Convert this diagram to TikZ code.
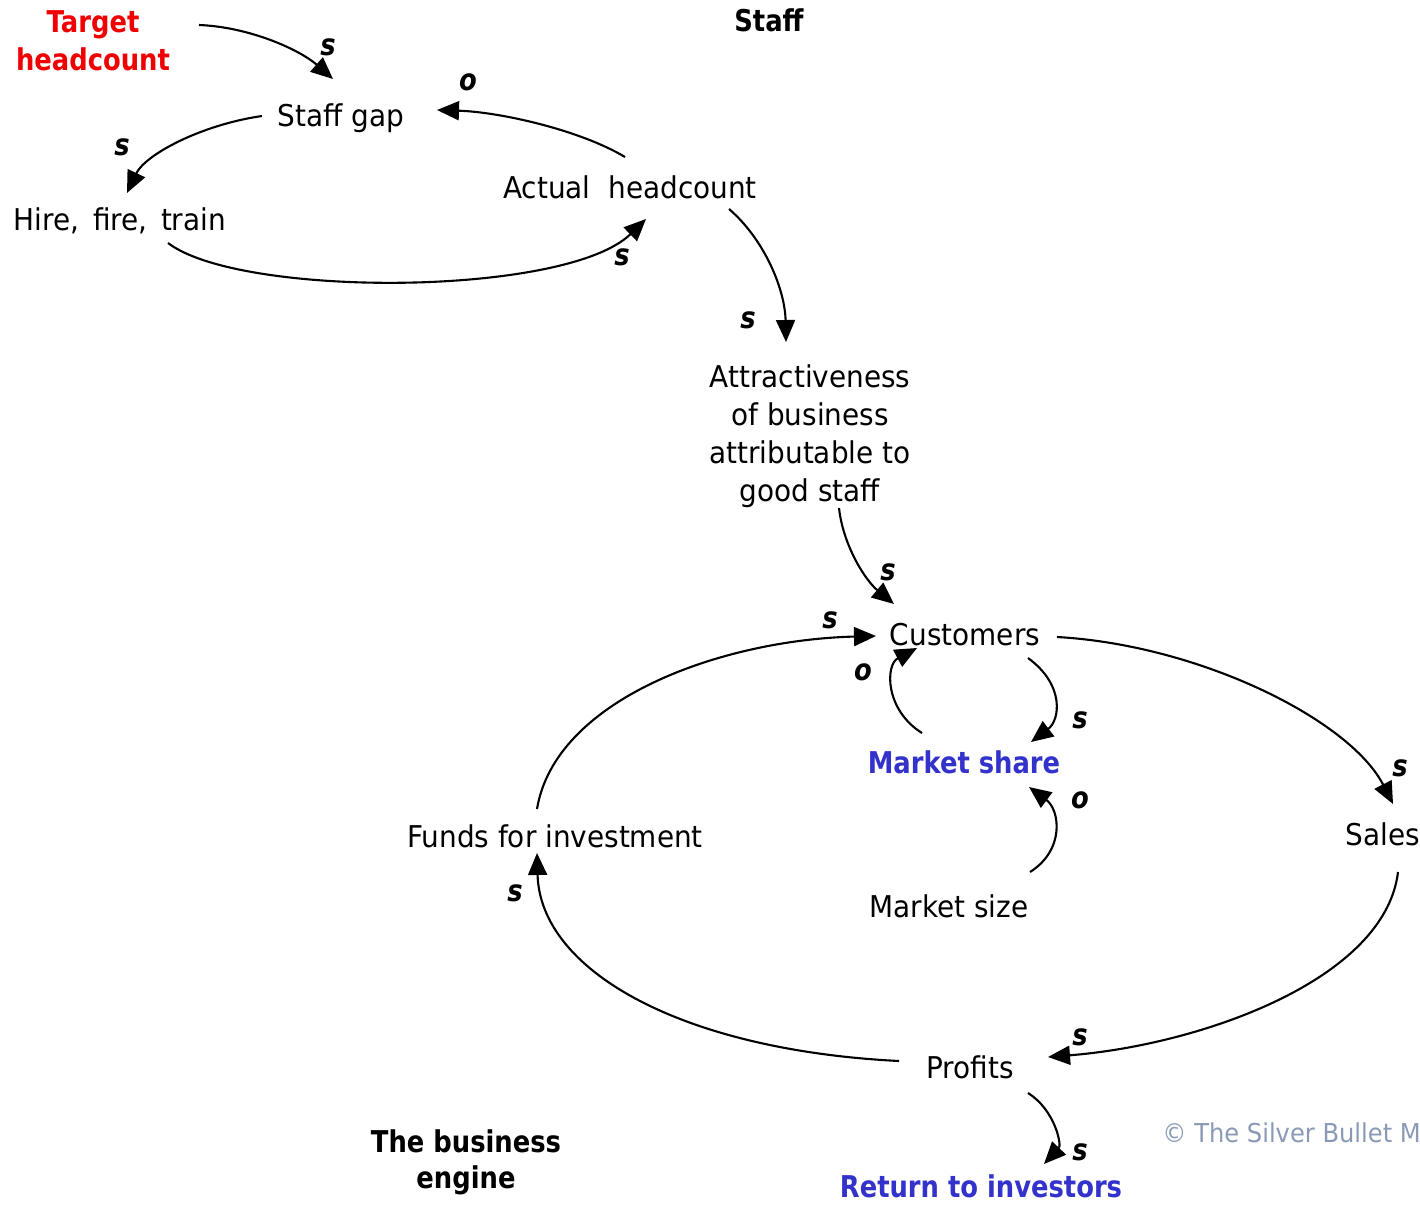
\documentclass[tikz,border=0pt]{standalone}
\usepackage{fontspec}
\usetikzlibrary{arrows.meta,calc}
\newfontfamily\regf{DejaVu Sans}[FakeStretch=0.93]
\newfontfamily\boldf{DejaVu Sans}[FakeStretch=0.86]
\definecolor{tgtred}{RGB}{240,0,0}
\definecolor{mblue}{RGB}{51,51,204}
\definecolor{cgray}{RGB}{138,154,182}
\newcommand\mylines[1]{\begin{tabular}[t]{@{}c@{}}#1\end{tabular}}
\begin{document}
\begin{tikzpicture}[x=1pt,y=-1pt,
  txt/.style={font=\regf\fontsize{30}{38.3}\selectfont, inner sep=0pt, anchor=base},
  bld/.style={font=\boldf\bfseries\fontsize{30}{38}\selectfont, inner sep=0pt, anchor=base},
  pol/.style={font=\boldf\bfseries\itshape\fontsize{30}{36}\selectfont, inner sep=0pt},
  link/.style={draw, line width=2.1pt, -{Triangle[length=22pt,width=19pt]}},
]
\fill[white] (0,0) rectangle (1420,1204);
\useasboundingbox (0,0) rectangle (1420,1204);

% nodes
\node[bld, text=tgtred] (target) at (93,33) {\mylines{Target\\headcount}};
\node[bld] (stafftitle) at (769,32) {Staff};
\node[txt] (gap) at (341,127) {Staff gap};
\node[txt] (actual) at (630,198) {Actual~~headcount};
\node[txt] (hire) at (120,230) {Hire,\hspace{0.45em}fire,\hspace{0.45em}train};
\node[txt] (attract) at (810,387) {\mylines{Attractiveness\\of business\\attributable to\\good staff}};
\node[txt] (cust) at (965,645) {Customers};
\node[bld, text=mblue] (mshare) at (964,773) {Market share};
\node[txt] (funds) at (555,847) {Funds for investment};
\node[txt] (sales) at (1383,845) {Sales};
\node[txt] (msize) at (949,917) {Market size};
\node[txt] (profits) at (970,1078) {Profits};
\node[bld, font=\boldf\bfseries\fontsize{30}{36.5}\selectfont] (engine) at (466,1152) {\mylines{The business\\engine}};
\node[bld, text=mblue] (ret) at (981,1197) {Return to investors};
\node[txt, anchor=base east, text=cgray, font=\regf\fontsize{26}{30}\selectfont] (copy) at (1421,1142) {© The Silver Bullet M};

% connectors
\draw[link] ($(target.base)+(106,-8)$) .. controls +(51,2) and +(-33,-29) .. ($(gap.base)+(-8,-48)$);
\draw[link] ($(actual.base)+(-5,-41)$) .. controls +(-45,-27) and +(63,2) .. ($(gap.base)+(96,-17)$);
\draw[link] ($(gap.base)+(-79,-11)$) .. controls +(-62,9) and +(18,-38) .. ($(hire.base)+(7,-37)$);
\draw[link] ($(hire.base)+(48,13)$) .. controls +(72,55) and +(-80,78) .. ($(actual.base)+(16,21)$);
\draw[link] ($(actual.base)+(99,11)$) .. controls +(36,31) and +(-1,-52) .. ($(attract.base)+(-24,-45)$);
\draw[link] ($(attract.base)+(29,121)$) .. controls +(4,37) and +(-29,-24) .. ($(cust.base)+(-71,-41)$);
\draw[link] ($(funds.base)+(-18,-38)$) .. controls +(18,-109) and +(-156,4) .. ($(cust.base)+(-89,-9)$);
\draw[link] ($(cust.base)+(92,-8)$) .. controls +(143,8) and +(-43,-84) .. ($(sales.base)+(10,-41)$);
\draw[link] ($(sales.base)+(15,27)$) .. controls +(-13,108) and +(152,-12) .. ($(profits.base)+(78,-21)$);
\draw[link] ($(profits.base)+(-71,-17)$) .. controls +(-219,-11) and +(3,117) .. ($(funds.base)+(-18,6)$);
\draw[link] ($(cust.base)+(63,13)$) .. controls +(37,27) and +(29,-22) .. ($(mshare.base)+(67,-31)$);
\draw[link] ($(mshare.base)+(-42,-40)$) .. controls +(-37,-23) and +(-32,17) .. ($(cust.base)+(-48,3)$);
\draw[link] ($(msize.base)+(81,-45)$) .. controls +(35,-22) and +(31,23) .. ($(mshare.base)+(65,14)$);
\draw[link] ($(profits.base)+(58,15)$) .. controls +(27,17) and +(18,-19) .. ($(ret.base)+(63,-33)$);

% polarity labels
\node[pol] (p1) at (328,47) {s};
\node[pol] (p2) at (468,82) {o};
\node[pol] (p3) at (122,147) {s};
\node[pol] (p4) at (622,257) {s};
\node[pol] (p5) at (748,320) {s};
\node[pol] (p6) at (888,572) {s};
\node[pol] (p7) at (830,620) {s};
\node[pol] (p8) at (863,672) {o};
\node[pol] (p9) at (1080,720) {s};
\node[pol] (p10) at (1400,768) {s};
\node[pol] (p11) at (1080,800) {o};
\node[pol] (p12) at (515,893) {s};
\node[pol] (p13) at (1080,1037) {s};
\node[pol] (p14) at (1080,1152) {s};
\end{tikzpicture}
\end{document}
